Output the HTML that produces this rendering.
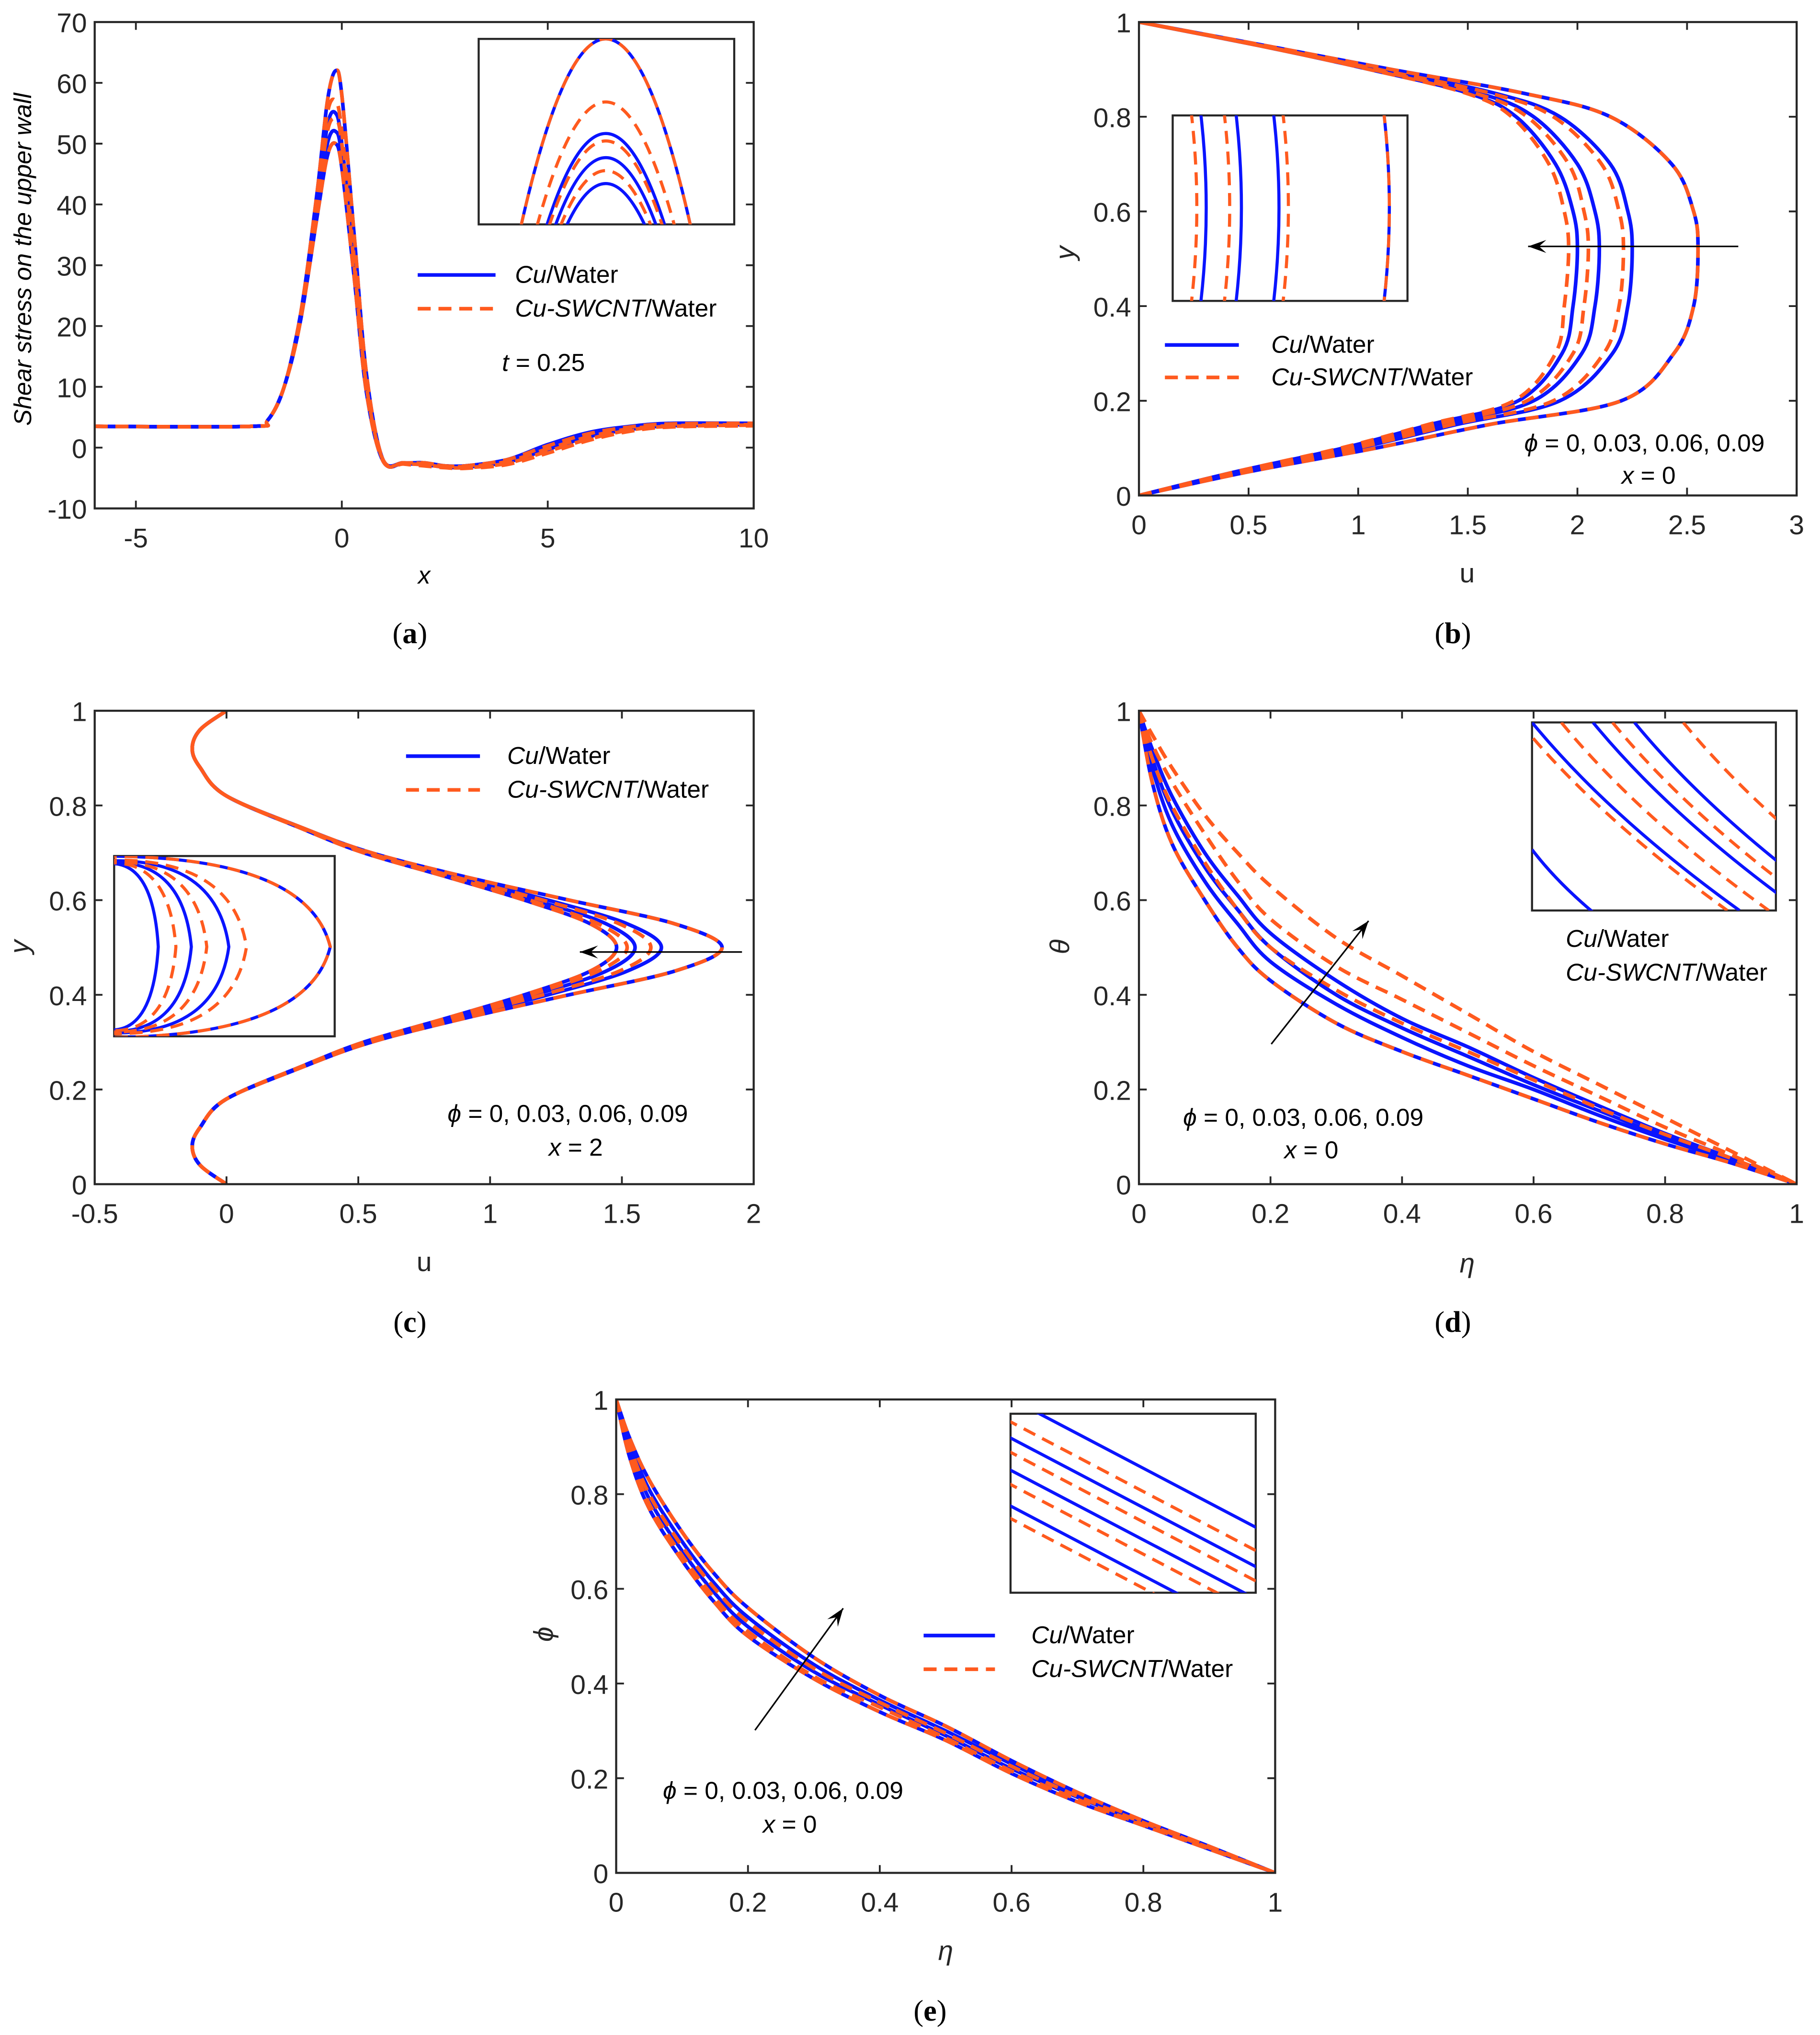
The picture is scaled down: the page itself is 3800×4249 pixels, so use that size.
<!DOCTYPE html>
<html><head><meta charset="utf-8"><style>
html,body{margin:0;padding:0;background:#fff;}
svg{display:block;}
text{font-family:"Liberation Sans",sans-serif;fill:#262626;}
.tk{font-size:21px;}
.lg{font-size:19px;fill:#000;}
.cap{font-family:"Liberation Serif",serif;font-size:23px;fill:#000;}
</style></head><body>
<svg id="fig" width="3800" height="4249" viewBox="0 0 1403 1569" preserveAspectRatio="none" xmlns="http://www.w3.org/2000/svg"></svg>
<script>
// ---- Panel (a) data ----
const aX=[-6,-2.2,-1.8,-1.4,-1,-0.6,-0.35,-0.15,0,0.3,0.6,1,1.5,2,2.5,3,4,5,6,7,8,10];
const aBlue=[
[3.5,3.5,4.5,10,22,42,57,62,58,35,12,-2,-2.5,-2.5,-3,-3,-2,0.5,2.5,3.5,4,4],
[3.5,3.5,4.5,10,22,40,53,55,50,30,10,-2,-2.5,-2.5,-3,-3,-2,0.3,2.3,3.3,3.8,4],
[3.5,3.5,4.5,10,21,39,50,52,48,29,10,-2,-2.5,-2.8,-3,-3,-2.2,0,2,3.2,3.7,3.9],
[3.5,3.5,4.5,10,21,38,48,50,46,28,9,-2.2,-2.6,-2.8,-3.2,-3.2,-2.4,-0.3,1.8,3,3.6,3.8]];
const aRed=[
[3.5,3.5,4.5,10,22,42,57,62,58,35,12,-2,-2.5,-2.5,-3,-3,-2,0.3,2.3,3.4,3.9,4],
[3.5,3.5,4.5,10,22,41,55,57,52,31,10,-2,-2.5,-2.6,-3,-3.1,-2.3,-0.2,1.8,3.1,3.6,3.8],
[3.5,3.5,4.5,10,21,40,52,54,50,30,10,-2,-2.6,-2.8,-3.2,-3.3,-2.6,-0.6,1.4,2.9,3.5,3.7],
[3.5,3.5,4.5,10,21,38,48,50,46,28,9,-2.2,-2.7,-3,-3.3,-3.4,-2.8,-0.9,1.2,2.7,3.4,3.6]];
const aInsetBlue=[1,0.49,0.36,0.22];
const aInsetRed=[1,0.66,0.45,0.29];
const aXTicks=[-5,0,5,10];
const aYTicks=[-10,0,10,20,30,40,50,60,70];
// ---- Panel (b) data ----
const bY=[0,0.05,0.1,0.15,0.2,0.3,0.4,0.52,0.6,0.7,0.8,0.85,0.9,0.95,1];
const bBlue=[
[0,0.5,1.08,1.6,2.2,2.44,2.53,2.55,2.53,2.43,2.15,1.75,1.15,0.58,0],
[0,0.47,1.0,1.45,1.92,2.16,2.23,2.25,2.23,2.15,1.92,1.62,1.1,0.56,0],
[0,0.45,0.96,1.38,1.8,2.02,2.08,2.1,2.08,2.0,1.8,1.55,1.07,0.55,0],
[0,0.44,0.93,1.33,1.73,1.93,1.98,2.0,1.98,1.9,1.72,1.5,1.05,0.55,0]];
const bRed=[
[0,0.5,1.08,1.6,2.2,2.44,2.53,2.55,2.53,2.43,2.15,1.75,1.15,0.58,0],
[0,0.46,0.99,1.43,1.89,2.12,2.19,2.21,2.19,2.11,1.89,1.6,1.09,0.56,0],
[0,0.45,0.95,1.36,1.77,1.98,2.03,2.05,2.03,1.96,1.77,1.53,1.06,0.55,0],
[0,0.44,0.92,1.32,1.71,1.9,1.94,1.96,1.94,1.87,1.7,1.49,1.05,0.55,0]];
const bInsetBlue=[0.14,0.29,0.45,0.92];
const bInsetRed=[0.1,0.24,0.49,0.92];
const bXTicks=[0,0.5,1,1.5,2,2.5,3];
const uTicks01=[0,0.2,0.4,0.6,0.8,1];
// ---- Panel (c) data ----
const cY=[0,0.04,0.08,0.12,0.18,0.25,0.3,0.35,0.4,0.45,0.5,0.55,0.6,0.65,0.7,0.75,0.82,0.88,0.92,0.96,1];
const cBlue=[
[0,-0.1,-0.13,-0.1,0,0.3,0.55,0.9,1.3,1.7,1.88,1.7,1.3,0.9,0.55,0.3,0,-0.1,-0.13,-0.1,0],
[0,-0.1,-0.13,-0.1,0,0.3,0.54,0.87,1.22,1.52,1.65,1.52,1.22,0.87,0.54,0.3,0,-0.1,-0.13,-0.1,0],
[0,-0.1,-0.13,-0.1,0,0.3,0.53,0.85,1.17,1.44,1.55,1.44,1.17,0.85,0.53,0.3,0,-0.1,-0.13,-0.1,0],
[0,-0.1,-0.13,-0.1,0,0.29,0.52,0.83,1.13,1.38,1.48,1.38,1.13,0.83,0.52,0.29,0,-0.1,-0.13,-0.1,0]];
const cRed=[
[0,-0.1,-0.13,-0.1,0,0.3,0.55,0.9,1.3,1.7,1.88,1.7,1.3,0.9,0.55,0.3,0,-0.1,-0.13,-0.1,0],
[0,-0.1,-0.13,-0.1,0,0.3,0.54,0.86,1.2,1.49,1.61,1.49,1.2,0.86,0.54,0.3,0,-0.1,-0.13,-0.1,0],
[0,-0.1,-0.13,-0.1,0,0.3,0.53,0.84,1.15,1.41,1.52,1.41,1.15,0.84,0.53,0.3,0,-0.1,-0.13,-0.1,0],
[0,-0.1,-0.13,-0.1,0,0.29,0.52,0.83,1.13,1.38,1.48,1.38,1.13,0.83,0.52,0.29,0,-0.1,-0.13,-0.1,0]];
const cInsetBlue=[0.2,0.35,0.52,0.98];
const cInsetRed=[0.28,0.42,0.6,0.98];
const cXTicks=[-0.5,0,0.5,1,1.5,2];
// ---- Panel (d) data ----
const eta=[0,0.02,0.05,0.1,0.15,0.2,0.3,0.4,0.5,0.6,0.7,0.8,0.9,1];
const dBlue=[
[1,0.85,0.72,0.6,0.5,0.43,0.34,0.28,0.23,0.18,0.13,0.085,0.045,0],
[1,0.88,0.76,0.64,0.55,0.47,0.38,0.31,0.25,0.2,0.145,0.095,0.05,0],
[1,0.9,0.79,0.67,0.58,0.5,0.4,0.33,0.27,0.21,0.155,0.1,0.052,0],
[1,0.92,0.82,0.7,0.61,0.53,0.43,0.35,0.29,0.225,0.165,0.107,0.055,0]];
const dRed=[
[1,0.85,0.72,0.6,0.5,0.43,0.34,0.28,0.23,0.18,0.13,0.085,0.045,0],
[1,0.9,0.8,0.68,0.58,0.5,0.41,0.34,0.28,0.22,0.16,0.105,0.055,0],
[1,0.93,0.85,0.74,0.64,0.56,0.46,0.39,0.32,0.25,0.185,0.12,0.062,0],
[1,0.95,0.88,0.78,0.7,0.63,0.52,0.44,0.36,0.28,0.21,0.14,0.07,0]];
const dInsetBlue=[0.0,0.25,0.42];
const dInsetRed=[-0.05,0.12,0.33,0.62];
const etaTicks=[0,0.2,0.4,0.6,0.8,1];
// ---- Panel (e) data ----
const eBlue=[
[1,0.88,0.77,0.66,0.57,0.5,0.41,0.34,0.28,0.21,0.15,0.1,0.05,0],
[1,0.9,0.79,0.68,0.59,0.52,0.425,0.355,0.29,0.22,0.16,0.105,0.052,0],
[1,0.91,0.81,0.7,0.61,0.54,0.44,0.365,0.3,0.23,0.165,0.108,0.054,0],
[1,0.92,0.83,0.72,0.63,0.56,0.455,0.375,0.31,0.237,0.17,0.11,0.056,0]];
const eRed=[
[1,0.88,0.77,0.66,0.57,0.5,0.41,0.34,0.28,0.21,0.15,0.1,0.05,0],
[1,0.89,0.78,0.67,0.58,0.51,0.415,0.35,0.285,0.215,0.155,0.102,0.051,0],
[1,0.905,0.8,0.69,0.6,0.53,0.432,0.36,0.295,0.225,0.162,0.106,0.053,0],
[1,0.92,0.83,0.72,0.63,0.56,0.455,0.375,0.31,0.237,0.17,0.11,0.056,0]];
const eInsetBlue=[-0.1,0.12,0.3,0.5];
const eInsetRed=[0.03,0.2,0.38,0.57];

const NS='http://www.w3.org/2000/svg';
const svg=document.getElementById('fig');
const BLUE='#0a14ff', RED='#ff5a1e';
function mk(tag,attrs,parent){const e=document.createElementNS(NS,tag);for(const k in attrs)e.setAttribute(k,attrs[k]);(parent||svg).appendChild(e);return e;}
function txt(x,y,s,cls,anchor,parent,extra){const t=mk('text',Object.assign({x:x,y:y,class:cls,'text-anchor':anchor||'middle'},extra||{}),parent);t.innerHTML=s;return t;}
function spline(pts){let d='M'+pts[0][0].toFixed(2)+','+pts[0][1].toFixed(2);
 for(let i=0;i<pts.length-1;i++){const p0=pts[Math.max(i-1,0)],p1=pts[i],p2=pts[i+1],p3=pts[Math.min(i+2,pts.length-1)];
 const c1=[p1[0]+(p2[0]-p0[0])/6,p1[1]+(p2[1]-p0[1])/6],c2=[p2[0]-(p3[0]-p1[0])/6,p2[1]-(p3[1]-p1[1])/6];
 d+=' C'+c1[0].toFixed(2)+','+c1[1].toFixed(2)+' '+c2[0].toFixed(2)+','+c2[1].toFixed(2)+' '+p2[0].toFixed(2)+','+p2[1].toFixed(2);}return d;}
function panel(id,bx,xr,yr){const g=mk('g',{});
 const P={g:g,bx:bx,sx:v=>bx[0]+(v-xr[0])/(xr[1]-xr[0])*(bx[2]-bx[0]),sy:v=>bx[3]-(v-yr[0])/(yr[1]-yr[0])*(bx[3]-bx[1])};
 const cp=mk('clipPath',{id:'clip'+id},g);mk('rect',{x:bx[0],y:bx[1],width:bx[2]-bx[0],height:bx[3]-bx[1]},cp);
 P.plot=mk('g',{'clip-path':'url(#clip'+id+')'},g);return P;}
function frame(P,xt,yt,xfmt,yfmt){const b=P.bx,g=P.g;
 const r=mk('rect',{x:b[0],y:b[1],width:b[2]-b[0],height:b[3]-b[1],fill:'none',stroke:'#262626','stroke-width':1.6},g);
 
 xt.forEach(v=>{const x=P.sx(v);mk('line',{x1:x,x2:x,y1:b[3],y2:b[3]-6,stroke:'#262626','stroke-width':1.4},g);mk('line',{x1:x,x2:x,y1:b[1],y2:b[1]+6,stroke:'#262626','stroke-width':1.4},g);
  const t=txt(x,b[3]+30,xfmt(v),'tk','middle',g);});
 yt.forEach(v=>{const y=P.sy(v);mk('line',{x1:b[0],x2:b[0]+6,y1:y,y2:y,stroke:'#262626','stroke-width':1.4},g);mk('line',{x1:b[2],x2:b[2]-6,y1:y,y2:y,stroke:'#262626','stroke-width':1.4},g);
  const t=txt(b[0]-6,y+8,yfmt(v),'tk','end',g);});}
function series(P,pts,color,dashed,name){const p=mk('path',{d:spline(pts),fill:'none',stroke:color,'stroke-width':2.8,'stroke-linejoin':'round'},P.plot);
 if(dashed)p.setAttribute('stroke-dasharray','10 6');
 }
function drawAll(P,xs,ys,blue,red,swap){blue.forEach((s,i)=>series(P,xs.map((x,j)=>swap?[P.sx(s[j]),P.sy(x)]:[P.sx(x),P.sy(s[j])]),BLUE,false,'cu-water-line-'+(i+1)));
 red.forEach((s,i)=>series(P,xs.map((x,j)=>swap?[P.sx(s[j]),P.sy(x)]:[P.sx(x),P.sy(s[j])]),RED,true,'cu-swcnt-water-line-'+(i+1)));}
function legend(P,x1,x2,tx,y1,y2){const g=mk('g',{},P.g);
 if(x1!==null){mk('line',{x1:x1,x2:x2,y1:y1-6,y2:y1-6,stroke:BLUE,'stroke-width':2.8},g);mk('line',{x1:x1,x2:x2,y1:y2-6,y2:y2-6,stroke:RED,'stroke-width':2.8,'stroke-dasharray':'10 6'},g);}
 txt(tx,y1,'<tspan font-style="italic">Cu</tspan>/Water','lg','start',g);txt(tx,y2,'<tspan font-style="italic">Cu-SWCNT</tspan>/Water','lg','start',g);}
function insetBox(P,b){const r=mk('rect',{x:b[0],y:b[1],width:b[2]-b[0],height:b[3]-b[1],fill:'#fff',stroke:'#262626','stroke-width':1.6},P.g);
 
 const id='ic'+b[0];const cp=mk('clipPath',{id:id},P.g);mk('rect',{x:b[0],y:b[1],width:b[2]-b[0],height:b[3]-b[1]},cp);
 return mk('g',{'clip-path':'url(#'+id+')'},P.g);}
function iline(g,d,color,dashed){const p=mk('path',{d:d,fill:'none',stroke:color,'stroke-width':2.4},g);if(dashed)p.setAttribute('stroke-dasharray','10 6');}
function arrow(P,x1,y1,x2,y2){const g=mk('g',{},P.g);
 mk('line',{x1:x1,y1:y1,x2:x2,y2:y2,stroke:'#000','stroke-width':1.2},g);const a=Math.atan2(y2-y1,x2-x1),L=14,W=5;
 const p=[[x2,y2],[x2-L*Math.cos(a)+W*Math.sin(a),y2-L*Math.sin(a)-W*Math.cos(a)],[x2-L*Math.cos(a)*0.6,y2-L*Math.sin(a)*0.6],[x2-L*Math.cos(a)-W*Math.sin(a),y2-L*Math.sin(a)+W*Math.cos(a)]];
 mk('polygon',{points:p.map(q=>q.join(',')).join(' '),fill:'#000'},g);}
function label(x,y,s,cls,rot,name,style){const t=txt(x,y,s,cls,'middle',svg,style||{});if(rot)t.setAttribute('transform','rotate(-90 '+x+' '+y+')');return t;}
const f01=v=>String(v);

// ===== (a) =====
let P=panel('a',[73,17,581,392],[-6,10],[-10,70]);
drawAll(P,aX,null,aBlue,aRed,false);
frame(P,aXTicks,aYTicks,f01,f01);
let ig=insetBox(P,[369,30,566,173]);
aInsetBlue.forEach(h=>{const w=57*Math.sqrt(h),top=173-h*143;iline(ig,'M'+(467-w*1.15)+',175 Q467,'+(2*top-175)+' '+(467+w*1.15)+',175',BLUE,false);});
aInsetRed.forEach(h=>{const w=57*Math.sqrt(h),top=173-h*143;iline(ig,'M'+(467-w*1.15)+',175 Q467,'+(2*top-175)+' '+(467+w*1.15)+',175',RED,true);});
legend(P,322,382,397,218,244);
txt(387,286,'<tspan font-style="italic">t</tspan> = 0.25','lg','start',P.g);
label(24,200,'Shear stress on the upper wall','lg',true,'y-axis-title',{'font-style':'italic'});
label(327,450,'x','lg',false,'x-axis-title',{'font-style':'italic'});
label(316,496,'(<tspan font-weight="bold">a</tspan>)','cap',false,'caption-a');

// ===== (b) =====
P=panel('b',[878,17,1385,382],[0,3],[0,1]);
drawAll(P,bY,null,bBlue,bRed,true);
frame(P,bXTicks,uTicks01,f01,f01);
ig=insetBox(P,[904,89,1085,232]);
bInsetBlue.forEach(f=>{const x=904+f*181;iline(ig,'M'+(x-4)+',85 Q'+(x+5)+',160 '+(x-4)+',236',BLUE,false);});
bInsetRed.forEach(f=>{const x=904+f*181;iline(ig,'M'+(x-4)+',85 Q'+(x+5)+',160 '+(x-4)+',236',RED,true);});
arrow(P,1340,190,1178,190);
legend(P,898,955,980,272,297);
txt(1175,348,'<tspan font-style="italic">ϕ</tspan> = 0, 0.03, 0.06, 0.09','lg','start',P.g);
txt(1250,373,'<tspan font-style="italic">x</tspan> = 0','lg','start',P.g);
label(1131,449,'u','tk',false,'x-axis-title');
label(828,195,'y','tk',true,'y-axis-title',{'font-style':'italic'});
label(1120,496,'(<tspan font-weight="bold">b</tspan>)','cap',false,'caption-b');

// ===== (c) =====
P=panel('c',[73,548,581,913],[-0.5,2],[0,1]);
drawAll(P,cY,null,cBlue,cRed,true);
frame(P,cXTicks,uTicks01,f01,f01);
ig=insetBox(P,[88,660,258,799]);
function cshape(f,col,d){const vx=88+f*170;iline(ig,'M80,'+(660+8*(1-f))+' Q'+(vx-(vx-80)*0.1)+',660 '+vx+',730 Q'+(vx-(vx-80)*0.1)+',800 80,'+(800-8*(1-f)),col,d);}
cInsetBlue.forEach(f=>cshape(f,BLUE,false));cInsetRed.forEach(f=>cshape(f,RED,true));
arrow(P,572,734,447,734);
legend(P,313,370,391,589,615);
txt(345,865,'<tspan font-style="italic">ϕ</tspan> = 0, 0.03, 0.06, 0.09','lg','start',P.g);
txt(423,891,'<tspan font-style="italic">x</tspan> = 2','lg','start',P.g);
label(327,980,'u','tk',false,'x-axis-title');
label(22,730,'y','tk',true,'y-axis-title',{'font-style':'italic'});
label(316,1027,'(<tspan font-weight="bold">c</tspan>)','cap',false,'caption-c');

// ===== (d) =====
P=panel('d',[878,548,1385,913],[0,1],[0,1]);
drawAll(P,eta,null,dBlue,dRed,false);
frame(P,etaTicks,uTicks01,f01,f01);
ig=insetBox(P,[1181,557,1369,702]);
dInsetBlue.forEach(f=>{const x=1181+f*188;iline(ig,'M'+x+',557 Q'+(x+60)+',630 '+(x+160)+',702',BLUE,false);});
iline(ig,'M1181,655 Q1200,680 1230,705',RED,true);
dInsetRed.forEach(f=>{const x=1181+f*188;iline(ig,'M'+x+',557 Q'+(x+60)+',630 '+(x+160)+',702',RED,true);});
iline(ig,'M1181,655 Q1200,680 1230,705',BLUE,false);
arrow(P,980,805,1055,710);
legend(P,null,null,1207,730,756);
txt(912,868,'<tspan font-style="italic">ϕ</tspan> = 0, 0.03, 0.06, 0.09','lg','start',P.g);
txt(990,893,'<tspan font-style="italic">x</tspan> = 0','lg','start',P.g);
label(1131,981,'η','tk',false,'x-axis-title',{'font-style':'italic'});
label(824,730,'θ','tk',true,'y-axis-title',{'font-style':'italic'});
label(1120,1027,'(<tspan font-weight="bold">d</tspan>)','cap',false,'caption-d');

// ===== (e) =====
P=panel('e',[475,1079,983,1444],[0,1],[0,1]);
drawAll(P,eta,null,eBlue,eRed,false);
frame(P,etaTicks,uTicks01,f01,f01);
ig=insetBox(P,[779,1090,968,1228]);
eInsetBlue.forEach(f=>{const y=1090+f*138;iline(ig,'M775,'+y+' L975,'+(y+105),BLUE,false);});
eInsetRed.forEach(f=>{const y=1090+f*138;iline(ig,'M775,'+y+' L975,'+(y+105),RED,true);});
arrow(P,582,1334,650,1240);
legend(P,712,767,795,1267,1293);
txt(511,1387,'<tspan font-style="italic">ϕ</tspan> = 0, 0.03, 0.06, 0.09','lg','start',P.g);
txt(588,1413,'<tspan font-style="italic">x</tspan> = 0','lg','start',P.g);
label(729,1511,'η','tk',false,'x-axis-title',{'font-style':'italic'});
label(426,1260,'ϕ','tk',true,'y-axis-title',{'font-style':'italic'});
label(717,1558,'(<tspan font-weight="bold">e</tspan>)','cap',false,'caption-e');
</script>
</body></html>
